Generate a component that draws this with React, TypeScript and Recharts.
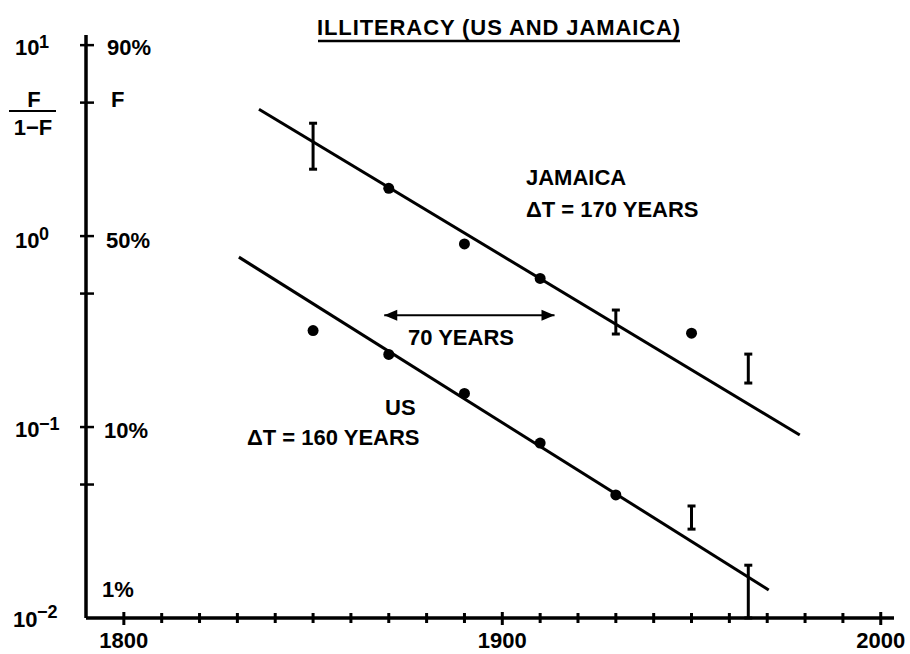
import React from 'react';
import { ComposedChart, Scatter, XAxis, YAxis, ErrorBar } from 'recharts';

// ---- data ----
const xTicks = [1800, 1810, 1820, 1830, 1840, 1850, 1860, 1870, 1880, 1890, 1900, 1910, 1920, 1930, 1940, 1950, 1960, 1970, 1980, 1990, 2000];
const xLabelYears = [1800, 1900, 2000];
const yTicks = [10, 5, 1, 0.5, 0.1, 0.05, 0.01];

const jamaicaDotYears = [1870, 1890, 1910, 1950];
const jamaicaDotValues = [1.78, 0.91, 0.6, 0.31];
const jamaicaBarYears = [1850, 1930, 1965];
const jamaicaBarLow = [2.24, 0.307, 0.17];
const jamaicaBarHigh = [3.9, 0.41, 0.241];
const jamaicaFitYears = [1835.7, 1978.6];
const jamaicaFitValues = [4.62, 0.0908];

const usDotYears = [1850, 1870, 1890, 1910, 1930];
const usDotValues = [0.32, 0.24, 0.15, 0.0824, 0.0441];
const usBarYears = [1950, 1965];
const usBarLow = [0.0292, 0.01];
const usBarHigh = [0.0386, 0.0189];
const usFitYears = [1830.4, 1970.4];
const usFitValues = [0.776, 0.01403];

const arrowYears = [1868.8, 1913.8];
const arrowValue = 0.385;

const FONT = "'Liberation Sans', Arial, Helvetica, sans-serif";

const pts = (xs: number[], ys: number[]) => xs.map((x, i) => ({ x, y: ys[i] }));
const bars = (xs: number[], lo: number[], hi: number[]) =>
  xs.map((x, i) => {
    const mid = Math.sqrt(lo[i] * hi[i]);
    return { x, y: mid, err: [mid - lo[i], hi[i] - mid] };
  });

const jamaicaDots = pts(jamaicaDotYears, jamaicaDotValues);
const jamaicaBars = bars(jamaicaBarYears, jamaicaBarLow, jamaicaBarHigh);
const jamaicaFit = pts(jamaicaFitYears, jamaicaFitValues);
const usDots = pts(usDotYears, usDotValues);
const usBars = bars(usBarYears, usBarLow, usBarHigh);
const usFit = pts(usFitYears, usFitValues);
const arrow = arrowYears.map((x) => ({ x, y: arrowValue }));

const txt = { fontFamily: FONT, fontWeight: 700, fill: '#000' } as const;

const Dot = (p: any) => <circle cx={p.cx} cy={p.cy} r={5.5} fill="#000" />;
const NoShape = () => <g />;
const ArrowHead = (p: any) => {
  const left = p.payload && p.payload.x === arrowYears[0];
  const { cx, cy } = p;
  const d = left
    ? `M${cx},${cy} L${cx + 13},${cy - 5.5} L${cx + 13},${cy + 5.5} Z`
    : `M${cx},${cy} L${cx - 13},${cy - 5.5} L${cx - 13},${cy + 5.5} Z`;
  return <path d={d} fill="#000" />;
};

const Sup = ({ x, y, base, sup }: any) => (
  <g>
    <text x={x} y={y.base} fontSize={22} {...txt}>{base}</text>
    <text x={x + 24} y={y.sup} fontSize={18} {...txt}>{sup}</text>
  </g>
);

const YTick = (props: any) => {
  const { x, y, payload } = props;
  const v = payload.value;
  const ax = x;
  const out: React.ReactNode[] = [];
  if (v !== 0.01) {
    out.push(<line key="t" x1={ax - 6} x2={ax + 8} y1={y} y2={y} stroke="#000" strokeWidth={2.5} />);
  }
  if (v === 10) {
    out.push(<Sup key="l" x={ax - 71} y={{ base: y + 10, sup: y + 3 }} base="10" sup="1" />);
    out.push(<text key="r" x={ax + 21} y={y + 10} fontSize={22} {...txt}>90%</text>);
  } else if (v === 5) {
    out.push(<text key="r" x={ax + 25} y={y + 4.5} fontSize={22} {...txt}>F</text>);
    out.push(<text key="f1" x={ax - 52} y={y + 4.5} fontSize={22} textAnchor="middle" {...txt}>F</text>);
    out.push(<line key="fl" x1={ax - 77} x2={ax - 30} y1={y + 8.5} y2={y + 8.5} stroke="#000" strokeWidth={2} />);
    out.push(<text key="f2" x={ax - 53} y={y + 32} fontSize={22} textAnchor="middle" {...txt}>1−F</text>);
  } else if (v === 1) {
    out.push(<Sup key="l" x={ax - 71} y={{ base: y + 11.5, sup: y + 3.5 }} base="10" sup="0" />);
    out.push(<text key="r" x={ax + 20} y={y + 11.5} fontSize={22} {...txt}>50%</text>);
  } else if (v === 0.1) {
    out.push(<Sup key="l" x={ax - 71} y={{ base: y + 10, sup: y + 3 }} base="10" sup="−1" />);
    out.push(<text key="r" x={ax + 18} y={y + 10.5} fontSize={22} {...txt}>10%</text>);
  } else if (v === 0.01) {
    out.push(<Sup key="l" x={ax - 73} y={{ base: y + 9, sup: y }} base="10" sup="−2" />);
    out.push(<text key="r" x={ax + 16} y={y - 21} fontSize={22} {...txt}>1%</text>);
  }
  return <g>{out}</g>;
};

const XTick = (props: any) => {
  const { x, y, payload } = props;
  const v = payload.value;
  const major = xLabelYears.includes(v);
  return (
    <g>
      <line x1={x} x2={x} y1={y - (major ? 6 : 5)} y2={y + (major ? 7 : 5)} stroke="#000" strokeWidth={3} />
      {major && (
        <text x={x} y={y + 30} fontSize={22} textAnchor="middle" {...txt}>{v}</text>
      )}
    </g>
  );
};

export default function App() {
  return (
    <div style={{ position: 'absolute', left: 0, top: 0, width: 910, height: 654, background: '#fff', overflow: 'hidden' }}>
      <ComposedChart width={910} height={654} margin={{ top: 35, right: 16, bottom: 0, left: 0 }}>
        <XAxis
          type="number"
          dataKey="x"
          domain={[1790, 2003.5]}
          ticks={xTicks}
          allowDataOverflow
          height={36}
          tickSize={0}
          tickMargin={0}
          tickLine={false}
          axisLine={{ stroke: '#000', strokeWidth: 3.5 }}
          tick={XTick}
          interval={0}
        />
        <YAxis
          type="number"
          dataKey="y"
          scale="log"
          domain={[0.01, 11.3]}
          ticks={yTicks}
          allowDataOverflow
          width={86}
          tickSize={0}
          tickMargin={0}
          tickLine={false}
          axisLine={{ stroke: '#000', strokeWidth: 3.5 }}
          tick={YTick}
          interval={0}
        />
        <Scatter data={jamaicaFit} line={{ stroke: '#000', strokeWidth: 3 }} shape={NoShape} isAnimationActive={false} />
        <Scatter data={usFit} line={{ stroke: '#000', strokeWidth: 3 }} shape={NoShape} isAnimationActive={false} />
        <Scatter data={jamaicaDots} shape={Dot} isAnimationActive={false} />
        <Scatter data={usDots} shape={Dot} isAnimationActive={false} />
        <Scatter data={jamaicaBars} shape={NoShape} isAnimationActive={false}>
          <ErrorBar dataKey="err" direction="y" width={4} stroke="#000" strokeWidth={3} isAnimationActive={false} />
        </Scatter>
        <Scatter data={usBars} shape={NoShape} isAnimationActive={false}>
          <ErrorBar dataKey="err" direction="y" width={4} stroke="#000" strokeWidth={3} isAnimationActive={false} />
        </Scatter>
        <Scatter data={arrow} line={{ stroke: '#000', strokeWidth: 2 }} shape={ArrowHead} isAnimationActive={false} />
      </ComposedChart>
      <svg width={910} height={654} style={{ position: 'absolute', left: 0, top: 0, pointerEvents: 'none' }}>
        <text x={499} y={35} fontSize={22} textAnchor="middle" letterSpacing={0.9} {...txt}>ILLITERACY (US AND JAMAICA)</text>
        <line x1={318} x2={680} y1={41} y2={41} stroke="#000" strokeWidth={2.5} />
        <text x={526} y={185} fontSize={22} {...txt}>JAMAICA</text>
        <text x={526} y={217} fontSize={22} {...txt}>ΔT = 170 YEARS</text>
        <text x={408} y={345} fontSize={22} {...txt}>70 YEARS</text>
        <text x={385} y={415} fontSize={22} {...txt}>US</text>
        <text x={247} y={445} fontSize={22} {...txt}>ΔT = 160 YEARS</text>
      </svg>
    </div>
  );
}
